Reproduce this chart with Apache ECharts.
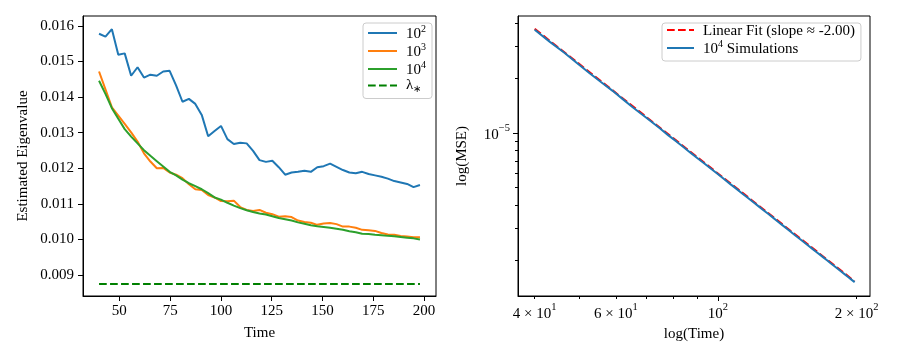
<!DOCTYPE html>
<html><head><meta charset="utf-8">
<script src="https://cdn.jsdelivr.net/npm/echarts@6/dist/echarts.min.js"></script>
<style>html,body{margin:0;padding:0;background:#fff}#c{width:900px;height:360px}</style>
</head><body><div id="c"></div>
<script>
// ---- data ----
const timeSteps = [40, 43.16, 46.32, 49.48, 52.64, 55.8, 58.96, 62.12, 65.28, 68.44,
  71.6, 74.76, 77.92, 81.08, 84.24, 87.4, 90.56, 93.72, 96.88, 100.04,
  103.2, 106.36, 109.52, 112.68, 115.84, 119, 122.16, 125.32, 128.48, 131.64,
  134.8, 137.96, 141.12, 144.28, 147.44, 150.6, 153.76, 156.92, 160.08, 163.24,
  166.4, 169.56, 172.72, 175.88, 179.04, 182.2, 185.36, 188.52, 191.68, 194.84, 198];
const eig1e2 = [0.01578, 0.01570, 0.01591, 0.01519, 0.01523, 0.01460, 0.01484, 0.01455, 0.01463, 0.01460,
  0.01472, 0.01474, 0.01433, 0.01387, 0.01395, 0.01381, 0.01350, 0.01290, 0.01305, 0.01319,
  0.01282, 0.01268, 0.01272, 0.01270, 0.01249, 0.01223, 0.01218, 0.01221, 0.01203, 0.01182,
  0.01188, 0.01190, 0.01193, 0.01190, 0.01203, 0.01206, 0.01213, 0.01204, 0.01195, 0.01188,
  0.01186, 0.01190, 0.01184, 0.01180, 0.01176, 0.01171, 0.01164, 0.01160, 0.01156, 0.01147, 0.01153];
const eig1e3 = [0.01472, 0.01422, 0.01371, 0.01348, 0.01325, 0.01301, 0.01275, 0.01242, 0.01219, 0.01200,
  0.01201, 0.01188, 0.01182, 0.01172, 0.01155, 0.01141, 0.01139, 0.01125, 0.01118, 0.01108,
  0.01107, 0.01109, 0.01091, 0.01083, 0.01080, 0.01083, 0.01075, 0.01071, 0.01064, 0.01065,
  0.01063, 0.01053, 0.01049, 0.01047, 0.01041, 0.01045, 0.01046, 0.01043, 0.01036, 0.01036,
  0.01033, 0.01027, 0.01026, 0.01024, 0.01018, 0.01014, 0.01013, 0.01010, 0.01008, 0.01006, 0.01006];
const eig1e4 = [0.01446, 0.01409, 0.01369, 0.01339, 0.01310, 0.01289, 0.01270, 0.01251, 0.01235, 0.01220,
  0.01205, 0.01190, 0.01180, 0.01168, 0.01158, 0.01150, 0.01141, 0.01130, 0.01118, 0.01112,
  0.01103, 0.01095, 0.01088, 0.01082, 0.01077, 0.01073, 0.01070, 0.01065, 0.01060, 0.01057,
  0.01053, 0.01048, 0.01044, 0.01040, 0.01037, 0.01035, 0.01033, 0.01030, 0.01027, 0.01023,
  0.01020, 0.01016, 0.01015, 0.01013, 0.01012, 0.01010, 0.01009, 0.01007, 0.01005, 0.01003, 0.01000];
const lambdaStar = 0.00875;
const lambdaTimes = [40, 198];

const mseSim = [3.70e-5, 3.17e-5, 2.77e-5, 2.42e-5, 2.13e-5, 1.90e-5, 1.71e-5, 1.535e-5, 1.385e-5, 1.262e-5,
  1.156e-5, 1.060e-5, 9.73e-6, 9.01e-6, 8.35e-6, 7.74e-6, 7.21e-6, 6.74e-6, 6.31e-6, 5.92e-6,
  5.56e-6, 5.23e-6, 4.94e-6, 4.66e-6, 4.41e-6, 4.18e-6, 3.97e-6, 3.77e-6, 3.59e-6, 3.42e-6,
  3.26e-6, 3.11e-6, 2.97e-6, 2.845e-6, 2.72e-6, 2.61e-6, 2.505e-6, 2.405e-6, 2.31e-6, 2.22e-6,
  2.14e-6, 2.06e-6, 1.985e-6, 1.913e-6, 1.847e-6, 1.783e-6, 1.722e-6, 1.666e-6, 1.612e-6, 1.559e-6, 1.51e-6];
const fitTimes = [40, 198];
const fitMse = [3.74e-5, 1.526e-6];

const leftXTicks = [50, 75, 100, 125, 150, 175, 200];
const leftYTicks = [0.009, 0.010, 0.011, 0.012, 0.013, 0.014, 0.015, 0.016];
const rightXLabelVals = [40, 60, 100, 200];
const rightXMinorTicks = [40, 50, 60, 70, 80, 90, 200];
const rightXMajorTicks = [100];
const rightYLabelVals = [1e-5];
const rightYMinorTicks = [2e-6, 3e-6, 4e-6, 5e-6, 6e-6, 7e-6, 8e-6, 9e-6, 2e-5, 3e-5, 4e-5];
const rightYMajorTicks = [1e-5];

// ---- chart ----
const FF = 'Liberation Serif';
const FS = 15;
const rich = {
  n: {fontFamily: FF, fontSize: FS, color: '#000', lineHeight: 20, verticalAlign: 'bottom'},
  s: {fontFamily: FF, fontSize: 10.5, color: '#000', lineHeight: 11, verticalAlign: 'top'}
};
const legendRich = {
  n: {fontFamily: FF, fontSize: FS, color: '#000', lineHeight: 18, verticalAlign: 'bottom'},
  s: {fontFamily: FF, fontSize: 10, color: '#000', lineHeight: 10, verticalAlign: 'top'},
  g: {fontFamily: FF, fontSize: FS, color: '#000', lineHeight: 18, verticalAlign: 'middle'},
  sub: {fontFamily: FF, fontSize: 10, color: '#000', lineHeight: 9, verticalAlign: 'bottom'}
};
const pairs = (xs, ys) => xs.map((x, i) => [x, ys[i]]);
const dashed = [7.7, 3.3];

const xLabelRight = v => {
  const m = {40: '{n|4 × 10}{s|1}', 60: '{n|6 × 10}{s|1}', 100: '{n|10}{s|2}', 200: '{n|2 × 10}{s|2}'};
  return m[Math.round(v)] || '';
};
const baseAxisLine = {show: true, lineStyle: {color: '#000', width: 1}};
const tickStyle = {show: true, inside: false, length: 5, lineStyle: {color: '#000', width: 1}};
const minorTickStyle = {show: true, inside: false, length: 3, lineStyle: {color: '#000', width: 1}};
const legendBase = {orient: 'vertical', top: 23, padding: [1, 6, 4, 4], itemGap: 0, itemHeight: 12,
  backgroundColor: 'rgba(255,255,255,0.8)', borderColor: '#cccccc', borderWidth: 1, borderRadius: 3,
  itemStyle: {opacity: 0, borderWidth: 0}, selectedMode: false,
  textStyle: {rich: legendRich, padding: [0, 0, 0, 4]}};

const chart = echarts.init(document.getElementById('c'), null, {renderer: 'canvas'});
chart.setOption({
  animation: false,
  backgroundColor: '#fff',
  grid: [
    {left: 83, top: 16, width: 353, height: 280, show: true, borderColor: '#000', borderWidth: 1, containLabel: false},
    {left: 518, top: 16, width: 352, height: 280, show: true, borderColor: '#000', borderWidth: 1, containLabel: false}
  ],
  xAxis: [
    {type: 'value', gridIndex: 0, min: 32.1, max: 205.9,
      name: 'Time', nameLocation: 'middle', nameGap: 30,
      nameTextStyle: {fontFamily: FF, fontSize: FS, color: '#000'},
      axisLine: baseAxisLine, splitLine: {show: false},
      axisTick: Object.assign({}, tickStyle, {customValues: leftXTicks}),
      axisLabel: {customValues: leftXTicks, fontFamily: FF, fontSize: FS, color: '#000', margin: 8}},
    {type: 'log', logBase: 10, gridIndex: 1, min: 36.8, max: 213.8,
      name: 'log(Time)', nameLocation: 'middle', nameGap: 31,
      nameTextStyle: {fontFamily: FF, fontSize: FS, color: '#000'},
      axisLine: baseAxisLine, splitLine: {show: false}, minorTick: {show: false},
      axisTick: Object.assign({}, minorTickStyle, {customValues: rightXMinorTicks}),
      axisLabel: {customValues: rightXLabelVals, formatter: xLabelRight, rich: rich, margin: 6}},
    {type: 'log', logBase: 10, gridIndex: 1, min: 36.8, max: 213.8, position: 'bottom',
      axisLine: {show: false}, splitLine: {show: false},
      axisTick: Object.assign({}, tickStyle, {customValues: rightXMajorTicks}),
      axisLabel: {show: false}}
  ],
  yAxis: [
    {type: 'value', gridIndex: 0, min: 0.00841, max: 0.01628,
      name: 'Estimated Eigenvalue', nameLocation: 'middle', nameGap: 52, nameRotate: 90,
      nameTextStyle: {fontFamily: FF, fontSize: FS, color: '#000'},
      axisLine: baseAxisLine, splitLine: {show: false},
      axisTick: Object.assign({}, tickStyle, {customValues: leftYTicks}),
      axisLabel: {customValues: leftYTicks, formatter: v => v.toFixed(3), fontFamily: FF, fontSize: FS, color: '#000', margin: 9}},
    {type: 'log', logBase: 10, gridIndex: 1, min: 1.267e-6, max: 4.40e-5,
      name: 'log(MSE)', nameLocation: 'middle', nameGap: 48, nameRotate: 90,
      nameTextStyle: {fontFamily: FF, fontSize: FS, color: '#000'},
      axisLine: baseAxisLine, splitLine: {show: false}, minorTick: {show: false},
      axisTick: Object.assign({}, minorTickStyle, {customValues: rightYMinorTicks}),
      axisLabel: {customValues: rightYLabelVals, formatter: () => '{n|10}{s|−5}', rich: rich, margin: 8}},
    {type: 'log', logBase: 10, gridIndex: 1, min: 1.267e-6, max: 4.40e-5, position: 'left',
      axisLine: {show: false}, splitLine: {show: false},
      axisTick: Object.assign({}, tickStyle, {customValues: rightYMajorTicks}),
      axisLabel: {show: false}}
  ],
  legend: [
    Object.assign({}, legendBase, {left: 363, itemWidth: 29,
      data: ['1e2', '1e3', '1e4', 'lambda'],
      formatter: name => ({'1e2': '{n|10}{s|2}', '1e3': '{n|10}{s|3}', '1e4': '{n|10}{s|4}', 'lambda': '{g|λ}{sub|∗}'})[name]}),
    Object.assign({}, legendBase, {left: 662, itemWidth: 27,
      data: ['fit', 'sim'],
      formatter: name => ({fit: '{n|Linear Fit (slope ≈ -2.00)}', sim: '{n|10}{s|4}{n| Simulations}'})[name]})
  ],
  series: [
    {name: '1e2', type: 'line', xAxisIndex: 0, yAxisIndex: 0, data: pairs(timeSteps, eig1e2), symbol: 'none',
      lineStyle: {color: '#1f77b4', width: 2}, itemStyle: {color: '#1f77b4'}},
    {name: '1e3', type: 'line', xAxisIndex: 0, yAxisIndex: 0, data: pairs(timeSteps, eig1e3), symbol: 'none',
      lineStyle: {color: '#ff7f0e', width: 2}, itemStyle: {color: '#ff7f0e'}},
    {name: '1e4', type: 'line', xAxisIndex: 0, yAxisIndex: 0, data: pairs(timeSteps, eig1e4), symbol: 'none',
      lineStyle: {color: '#2ca02c', width: 2}, itemStyle: {color: '#2ca02c'}},
    {name: 'lambda', type: 'line', xAxisIndex: 0, yAxisIndex: 0, data: lambdaTimes.map(t => [t, lambdaStar]), symbol: 'none',
      lineStyle: {color: '#008000', width: 2, type: dashed}, itemStyle: {color: '#008000'}},
    {name: 'fit', type: 'line', xAxisIndex: 1, yAxisIndex: 1, data: pairs(fitTimes, fitMse), symbol: 'none',
      lineStyle: {color: '#ff0000', width: 2, type: dashed}, itemStyle: {color: '#ff0000'}},
    {name: 'sim', type: 'line', xAxisIndex: 1, yAxisIndex: 1, data: pairs(timeSteps, mseSim), symbol: 'none',
      lineStyle: {color: '#1f77b4', width: 2}, itemStyle: {color: '#1f77b4'}}
  ]
});
</script>
</body></html>
